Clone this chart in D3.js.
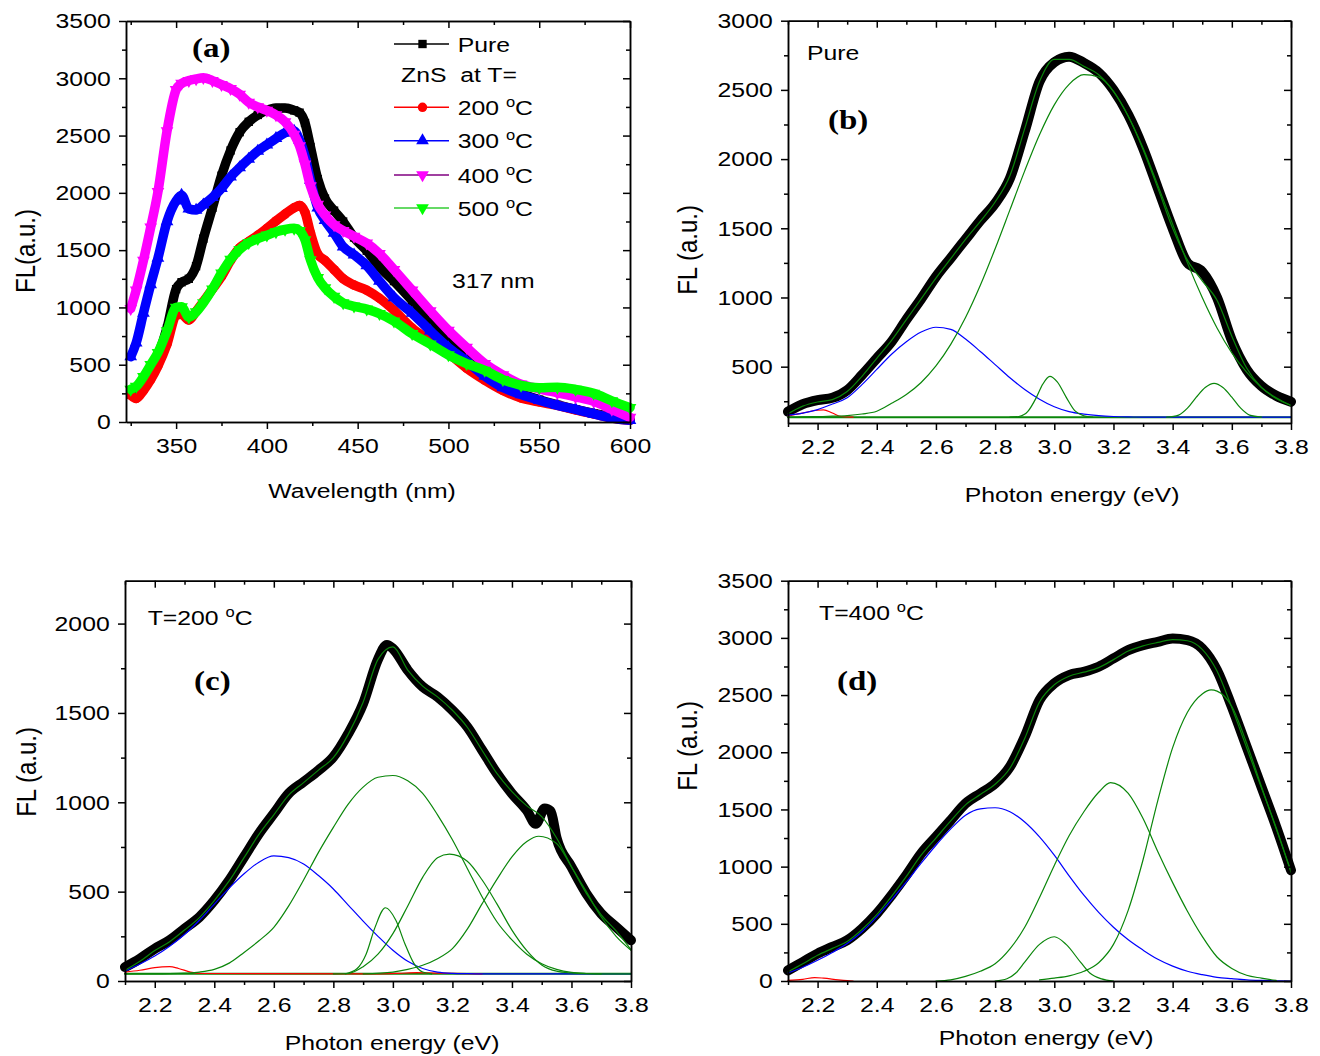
<!DOCTYPE html>
<html>
<head>
<meta charset="utf-8">
<script src="https://cdn.jsdelivr.net/npm/d3@7"></script>
<style>
  body { margin: 0; background: #fff; }
  text { font-family: "Liberation Sans", Arial, sans-serif; fill: #000; }
</style>
</head>
<body>
<svg id="chart" width="1320" height="1056"></svg>
<script>
// ---------- datos ----------
// (a) espectros FL, excitacion 317 nm
const wl = [325,328,332,336,340,345,350,353,357,361,365,370,375,380,385,390,395,400,405,410,415,418,421,424,428,432,437,442,448,455,462,470,480,490,500,510,520,530,540,550,560,570,580,590,600]
const flPure = [240,230,330,440,580,820,1160,1220,1250,1360,1600,1870,2150,2370,2530,2620,2680,2720,2740,2740,2720,2700,2610,2400,2120,1950,1845,1750,1610,1495,1355,1230,1060,880,715,565,440,330,250,195,150,110,75,45,20]
const fl200 = [235,205,275,370,490,680,930,940,890,965,1050,1160,1270,1410,1520,1575,1630,1690,1755,1815,1870,1890,1830,1650,1465,1410,1330,1250,1195,1150,1080,975,820,710,600,470,365,275,210,175,145,105,70,35,15]
const fl300 = [570,690,950,1200,1430,1750,1930,1980,1860,1850,1895,1960,2040,2140,2220,2295,2365,2420,2475,2525,2540,2460,2320,2110,1870,1760,1650,1530,1460,1365,1230,1085,950,795,650,530,400,300,240,190,145,110,70,35,15]
const fl400 = [990,1150,1410,1700,2010,2540,2900,2955,2980,2995,3005,2980,2945,2910,2860,2790,2750,2720,2680,2620,2510,2410,2250,2060,1900,1805,1720,1670,1620,1560,1470,1330,1150,970,800,650,510,410,330,290,255,220,180,110,40]
const fl500 = [285,310,395,500,605,795,1000,1005,915,960,1040,1160,1300,1420,1505,1565,1600,1630,1660,1680,1690,1670,1590,1415,1260,1170,1095,1040,1010,985,945,880,770,680,585,510,450,370,320,300,303,285,250,185,125]
const seriesNames = ["Pure", "200", "300", "400", "500"]
const aXTicks = [350,400,450,500,550,600]
const aXMinor = [325,375,425,475,525,575]
const aYTicks = [0,500,1000,1500,2000,2500,3000,3500]
const aYMinor = [250,750,1250,1750,2250,2750,3250]

// rejilla de energia (eV) para (b), (c), (d)
const eGrid = [2.10,2.15,2.20,2.25,2.30,2.35,2.40,2.45,2.50,2.55,2.60,2.65,2.70,2.75,2.80,2.85,2.90,2.95,3.00,3.05,3.10,3.15,3.20,3.25,3.30,3.35,3.40,3.45,3.50,3.55,3.60,3.65,3.70,3.75,3.80]
const eTicks = [2.2,2.4,2.6,2.8,3.0,3.2,3.4,3.6,3.8]
const eMinor = [2.1,2.3,2.5,2.7,2.9,3.1,3.3,3.5,3.7]

// (b) Pure
const bData = [175,230,259,275,330,440,560,680,840,990,1150,1285,1420,1555,1680,1860,2200,2560,2700,2740,2695,2625,2500,2320,2080,1790,1500,1250,1186,1000,690,480,360,290,247]
const bFit = [160,215,245,262,320,430,560,690,840,990,1140,1280,1420,1550,1690,1880,2220,2560,2720,2720,2670,2610,2490,2310,2070,1790,1500,1270,1120,980,720,490,350,270,220]
const bBlue = [150,165,190,230,275,370,480,590,680,750,785,770,700,610,515,420,335,265,210,175,157,146,140,137,136,135,135,135,135,135,135,135,135,135,135]
const bGreen1 = [136,137,139,142,147,158,178,235,299,386,505,661,855,1088,1352,1633,1915,2176,2392,2540,2610,2593,2490,2310,2080,1810,1530,1250,1000,780,600,460,350,275,220]
const bGreen2E = [2.85,2.88,2.91,2.94,2.96,2.985,3.01,3.04,3.07,3.10,3.13]
const bGreen2 = [135,140,175,280,370,430,390,280,180,145,136]
const bGreen3E = [3.38,3.42,3.45,3.48,3.51,3.54,3.57,3.60,3.63,3.66,3.70]
const bGreen3 = [135,150,200,280,350,380,350,280,200,150,136]
const bRedE = [2.10,2.15,2.20,2.22,2.25,2.28,2.32]
const bRed = [145,165,185,188,165,140,135]
const bBase = 135
const bYTicks = [500,1000,1500,2000,2500,3000]
const bYMinor = [250,750,1250,1750,2250,2750]

// (c) T=200 C
const cDataE = [2.10,2.15,2.20,2.25,2.30,2.35,2.40,2.45,2.50,2.55,2.60,2.65,2.70,2.75,2.80,2.85,2.90,2.95,2.98,3.00,3.05,3.10,3.15,3.20,3.25,3.30,3.35,3.40,3.45,3.48,3.51,3.53,3.55,3.60,3.65,3.70,3.75,3.80]
const cData = [78,125,181,228,293,358,451,563,694,825,937,1049,1114,1179,1254,1384,1552,1800,1880,1860,1739,1646,1590,1515,1422,1291,1160,1049,955,880,965,950,800,638,489,377,302,228]
const cFit = [60,110,170,220,285,355,450,560,690,820,930,1040,1110,1180,1250,1380,1560,1800,1870,1740,1650,1590,1515,1420,1290,1160,1060,980,920,800,640,490,370,280,175]
const cBlue = [55,95,140,195,260,340,430,520,600,665,700,690,655,590,515,425,335,250,172,110,70,50,43,41,40,40,40,40,40,40,40,40,40,40,40]
const cGreen1 = [40,40,40,41,44,50,65,100,160,225,300,420,565,720,860,990,1085,1140,1150,1120,1050,930,790,630,470,330,230,150,97,65,48,42,40,40,40]
const cGreen2E = [2.84,2.88,2.91,2.94,2.975,3.01,3.04,3.07,3.10,3.13]
const cGreen2 = [40,70,150,300,410,340,210,100,50,40]
const cGreen3E = [2.80,2.85,2.90,2.95,3.00,3.05,3.10,3.15,3.19,3.25,3.30,3.35,3.40,3.45,3.50,3.55,3.60,3.65,3.70]
const cGreen3 = [40,42,80,150,265,420,580,690,710,670,565,430,285,170,90,55,45,41,40]
const cGreen4E = [2.90,3.00,3.05,3.10,3.15,3.20,3.25,3.30,3.35,3.40,3.45,3.49,3.55,3.60,3.65,3.70,3.75,3.80]
const cGreen4 = [40,50,65,88,125,181,290,433,570,694,780,810,769,638,500,358,250,172]
const cRedE = [2.10,2.15,2.20,2.25,2.28,2.32,2.36,2.95,3.02,3.08,3.15,3.30]
const cRed = [50,60,75,80,70,50,42,40,43,47,44,40]
const cBase = 40
const cYTicks = [0,500,1000,1500,2000]
const cYMinor = [250,750,1250,1750]

// (d) T=400 C
const dData = [93,166,239,298,356,458,589,750,925,1114,1260,1406,1552,1639,1727,1873,2135,2456,2602,2675,2704,2748,2820,2893,2937,2966,2995,2981,2908,2718,2398,2048,1698,1348,968]
const dFit = [80,150,225,285,345,450,580,740,915,1100,1250,1400,1540,1630,1720,1860,2120,2440,2590,2665,2700,2740,2810,2885,2930,2960,2985,2975,2900,2710,2390,2040,1690,1340,950]
const dBlue = [70,120,181,250,327,430,560,710,866,1030,1187,1330,1450,1505,1515,1480,1390,1260,1100,920,750,600,470,360,270,190,130,85,55,32,20,10,5,2,0]
const dGreen1E = [2.60,2.65,2.70,2.75,2.80,2.85,2.90,2.95,3.00,3.05,3.10,3.15,3.19,3.25,3.30,3.35,3.40,3.45,3.50,3.55,3.60,3.65,3.70,3.75]
const dGreen1 = [0,10,40,85,150,280,470,730,1010,1270,1480,1650,1735,1640,1420,1130,860,610,390,210,110,50,25,5]
const dGreen2E = [2.80,2.84,2.87,2.90,2.95,3.00,3.04,3.09,3.12,3.16,3.20]
const dGreen2 = [0,20,70,165,320,387,320,160,70,18,0]
const dGreen3E = [2.95,3.00,3.05,3.10,3.15,3.20,3.25,3.30,3.35,3.40,3.45,3.50,3.53,3.55,3.60,3.65,3.70,3.75,3.80]
const dGreen3 = [10,25,45,85,160,320,620,1060,1580,2040,2350,2510,2545,2535,2400,2080,1700,1330,960]
const dRedE = [2.10,2.15,2.19,2.22,2.27,2.30,2.32]
const dRed = [5,15,30,25,10,3,0]
const dYTicks = [0,500,1000,1500,2000,2500,3000,3500]
const dYMinor = [250,750,1250,1750,2250,2750,3250]

// ---------- dibujo ----------
const svg = d3.select("#chart")
const SX = 1.18 // el texto original esta algo estirado en horizontal
const GREEN = "#0a860a"

const put = (x, y, s, o = {}) =>
  svg
    .append("text")
    .attr("transform", `translate(${x},${y}) scale(${SX},1)`)
    .attr("font-size", o.size || 21)
    .attr("text-anchor", o.anchor || "start")
    .style("font-family", o.serif ? '"Liberation Serif", "Times New Roman", serif' : null)
    .attr("font-weight", o.bold ? "bold" : null)
    .style("white-space", "pre")
    .text(s)

const putDeg = (x, y, s) => {
  const t = svg
    .append("text")
    .attr("transform", `translate(${x},${y}) scale(${SX},1)`)
    .attr("font-size", 21)
    .style("white-space", "pre")
  t.append("tspan").text(s + " ")
  t.append("tspan").attr("font-size", 14).attr("dy", -8).text("o")
  t.append("tspan").attr("dy", 8).text("C")
}

const yTitle = (x, y, s) =>
  svg
    .append("text")
    .attr("transform", `translate(${x},${y}) rotate(-90) scale(1,${SX})`)
    .attr("font-size", 24)
    .attr("text-anchor", "middle")
    .style("white-space", "pre")
    .text(s)

const styleAxis = (g) => {
  g.attr("font-size", 21).attr("font-family", null)
  g.selectAll("path, line").attr("stroke", "#000").attr("stroke-width", 1.5)
  g.selectAll(".tick text").attr("transform", `scale(${SX},1)`)
}

// marco con ejes: ticks hacia fuera abajo/izquierda, hacia dentro arriba/derecha
const frame = (x, y, xt, xm, yt, ym, xFmt) => {
  const [x0, x1] = x.range()
  const [y0, y1] = y.range()
  const g = svg.append("g")
  const add = (axis, tr) => g.append("g").attr("transform", tr).call(axis).call(styleAxis)
  add(d3.axisBottom(x).tickValues(xm).tickSize(4).tickFormat("").tickSizeOuter(0), `translate(0,${y0})`)
  add(d3.axisBottom(x).tickValues(xt).tickSize(7).tickPadding(9).tickFormat(xFmt).tickSizeOuter(0), `translate(0,${y0})`)
  add(d3.axisBottom(x).tickValues(xm).tickSize(4).tickFormat("").tickSizeOuter(0), `translate(0,${y1})`)
  add(d3.axisBottom(x).tickValues(xt).tickSize(7).tickFormat("").tickSizeOuter(0), `translate(0,${y1})`)
  add(d3.axisLeft(y).tickValues(ym).tickSize(4).tickFormat("").tickSizeOuter(0), `translate(${x0},0)`)
  add(d3.axisLeft(y).tickValues(yt).tickSize(7).tickPadding(6).tickFormat(d3.format("d")).tickSizeOuter(0), `translate(${x0},0)`)
  add(d3.axisLeft(y).tickValues(ym).tickSize(4).tickFormat("").tickSizeOuter(0), `translate(${x1},0)`)
  add(d3.axisLeft(y).tickValues(yt).tickSize(7).tickFormat("").tickSizeOuter(0), `translate(${x1},0)`)
}

const curve = (x, y, xs, vs, color, w) =>
  svg
    .append("path")
    .datum(d3.zip(xs, vs))
    .attr("fill", "none")
    .attr("stroke", color)
    .attr("stroke-width", w)
    .attr("stroke-linejoin", "round")
    .attr("stroke-linecap", "round")
    .attr("d", d3.line().x((d) => x(d[0])).y((d) => y(d[1])).curve(d3.curveMonotoneX))

// ---------- (a) ----------
const xA = d3.scaleLinear().domain([322.4, 600]).range([126, 630])
const yA = d3.scaleLinear().domain([0, 3500]).range([422, 21])

const aVals = [flPure, fl200, fl300, fl400, fl500]
const aColor = ["#000000", "#ff0000", "#0000ff", "#ff00ff", "#00ff00"]
const aLegLine = ["#000000", "#ff0000", "#0000ff", "#800080", "#33cc33"]
const aSym = [d3.symbolSquare, d3.symbolCircle, d3.symbolTriangle, d3.symbolTriangle, d3.symbolTriangle]
const aRot = [0, 0, 0, 180, 180]

aVals.forEach((vals, i) => {
  curve(xA, yA, wl, vals, aColor[i], 9.5)
  svg
    .append("g")
    .selectAll("path")
    .data(d3.zip(wl, vals))
    .join("path")
    .attr("transform", (d) => `translate(${xA(d[0])},${yA(d[1])}) rotate(${aRot[i]})`)
    .attr("d", d3.symbol(aSym[i], 70))
    .attr("fill", aColor[i])
})

frame(xA, yA, aXTicks, aXMinor, aYTicks, aYMinor, d3.format("d"))

// leyenda (a)
const legY = [44, 107.3, 140.7, 175, 208]
seriesNames.forEach((name, i) => {
  svg.append("line")
    .attr("x1", 394).attr("x2", 449).attr("y1", legY[i]).attr("y2", legY[i])
    .attr("stroke", aLegLine[i]).attr("stroke-width", 1.5)
  svg.append("path")
    .attr("transform", `translate(422.5,${legY[i]}) rotate(${aRot[i]})`)
    .attr("d", d3.symbol(aSym[i], 70))
    .attr("fill", aColor[i])
  if (i === 0) put(457.7, legY[i] + 7.6, name)
  else putDeg(457.7, legY[i] + 7.6, name)
})
put(401, 81.7, "ZnS  at T=")
put(452, 288, "317 nm")
put(192, 57, "(a)", { serif: true, bold: true, size: 28 })
yTitle(35, 251, "FL(a.u.)")
put(362, 498, "Wavelength (nm)", { anchor: "middle" })

// ---------- (b) ----------
const xB = d3.scaleLinear().domain([2.1, 3.8]).range([788, 1291])
const yB = d3.scaleLinear().domain([93, 3000]).range([423, 20.7])
curve(xB, yB, eGrid, bData, "#000", 10)
curve(xB, yB, [2.1, 3.8], [bBase, bBase], GREEN, 2)
curve(xB, yB, bRedE, bRed, "#ff0000", 1.2)
curve(xB, yB, eGrid, bBlue, "#0000ff", 1.2)
curve(xB, yB, eGrid, bGreen1, GREEN, 1.2)
curve(xB, yB, bGreen2E, bGreen2, GREEN, 1.2)
curve(xB, yB, bGreen3E, bGreen3, GREEN, 1.2)
curve(xB, yB, eGrid, bFit, GREEN, 1.2)
frame(xB, yB, eTicks, eMinor, bYTicks, bYMinor, d3.format(".1f"))
put(807, 60, "Pure")
put(828, 129, "(b)", { serif: true, bold: true, size: 28 })
yTitle(697, 250, "FL (a.u.)")
put(1072, 502, "Photon energy (eV)", { anchor: "middle" })

// ---------- (c) ----------
const xC = d3.scaleLinear().domain([2.1, 3.8]).range([125, 631])
const yC = d3.scaleLinear().domain([0, 2240]).range([981, 580.7])
curve(xC, yC, cDataE, cData, "#000", 10)
curve(xC, yC, [2.1, 3.8], [cBase, cBase], GREEN, 2)
curve(xC, yC, cRedE, cRed, "#ff0000", 1.2)
curve(xC, yC, eGrid, cBlue, "#0000ff", 1.2)
curve(xC, yC, eGrid, cGreen1, GREEN, 1.2)
curve(xC, yC, cGreen2E, cGreen2, GREEN, 1.2)
curve(xC, yC, cGreen3E, cGreen3, GREEN, 1.2)
curve(xC, yC, cGreen4E, cGreen4, GREEN, 1.2)
curve(xC, yC, eGrid, cFit, GREEN, 1.2)
frame(xC, yC, eTicks, eMinor, cYTicks, cYMinor, d3.format(".1f"))
putDeg(147.7, 625, "T=200")
put(194, 690, "(c)", { serif: true, bold: true, size: 28 })
yTitle(36, 772, "FL (a.u.)")
put(392, 1050, "Photon energy (eV)", { anchor: "middle" })

// ---------- (d) ----------
const xD = d3.scaleLinear().domain([2.1, 3.8]).range([788, 1291])
const yD = d3.scaleLinear().domain([0, 3500]).range([981, 580.7])
curve(xD, yD, eGrid, dData, "#000", 10)
curve(xD, yD, dRedE, dRed, "#ff0000", 1.2)
curve(xD, yD, eGrid, dBlue, "#0000ff", 1.2)
curve(xD, yD, dGreen1E, dGreen1, GREEN, 1.2)
curve(xD, yD, dGreen2E, dGreen2, GREEN, 1.2)
curve(xD, yD, dGreen3E, dGreen3, GREEN, 1.2)
curve(xD, yD, eGrid, dFit, GREEN, 1.2)
frame(xD, yD, eTicks, eMinor, dYTicks, dYMinor, d3.format(".1f"))
putDeg(819, 620, "T=400")
put(837, 690, "(d)", { serif: true, bold: true, size: 28 })
yTitle(697, 746, "FL (a.u.)")
put(1046, 1045, "Photon energy (eV)", { anchor: "middle" })
</script>
</body>
</html>
